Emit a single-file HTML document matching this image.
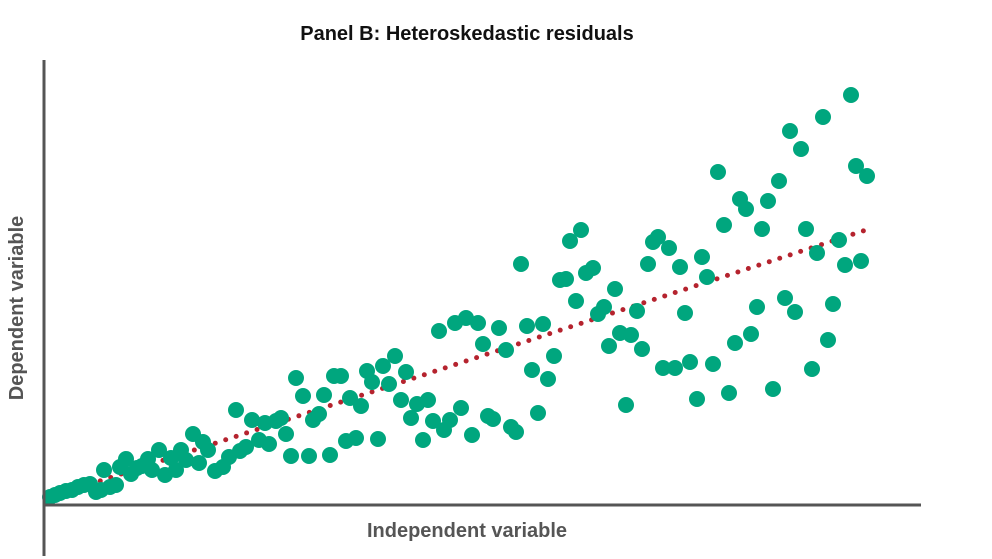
<!DOCTYPE html>
<html><head><meta charset="utf-8"><style>
html,body{margin:0;padding:0;background:#fff;width:992px;height:559px;overflow:hidden}
</style></head><body>
<svg width="992" height="559" viewBox="0 0 992 559" xmlns="http://www.w3.org/2000/svg">
<text x="467" y="40" text-anchor="middle" font-family="Liberation Sans, sans-serif" font-weight="bold" font-size="20" fill="#111">Panel B: Heteroskedastic residuals</text>
<text x="467" y="537" text-anchor="middle" font-family="Liberation Sans, sans-serif" font-weight="bold" font-size="20" fill="#555">Independent variable</text>
<text transform="translate(23,308) rotate(-90)" text-anchor="middle" font-family="Liberation Sans, sans-serif" font-weight="bold" font-size="20" fill="#555">Dependent variable</text>
<line x1="48" y1="498" x2="866" y2="230" stroke="#B5232E" stroke-width="5" stroke-linecap="round" stroke-dasharray="0 11"/>
<g fill="#00A67E">
<circle cx="50" cy="497" r="8"/><circle cx="55" cy="495" r="8"/><circle cx="60" cy="493" r="8"/><circle cx="66" cy="491" r="8"/><circle cx="72" cy="490" r="8"/><circle cx="78" cy="487" r="8"/><circle cx="84" cy="485" r="8"/><circle cx="90" cy="484" r="8"/><circle cx="96" cy="492" r="8"/><circle cx="101" cy="490" r="8"/>
<circle cx="104" cy="470" r="8"/><circle cx="110" cy="487" r="8"/><circle cx="116" cy="485" r="8"/><circle cx="120" cy="467" r="8"/><circle cx="126" cy="459" r="8"/><circle cx="131" cy="474" r="8"/><circle cx="137" cy="468" r="8"/><circle cx="142" cy="466" r="8"/><circle cx="148" cy="459" r="8"/><circle cx="152" cy="470" r="8"/>
<circle cx="159" cy="450" r="8"/><circle cx="165" cy="475" r="8"/><circle cx="171" cy="458" r="8"/><circle cx="176" cy="470" r="8"/><circle cx="181" cy="450" r="8"/><circle cx="186" cy="460" r="8"/><circle cx="193" cy="434" r="8"/><circle cx="199" cy="463" r="8"/><circle cx="203" cy="442" r="8"/><circle cx="208" cy="450" r="8"/>
<circle cx="215" cy="471" r="8"/><circle cx="223" cy="467" r="8"/><circle cx="229" cy="457" r="8"/><circle cx="236" cy="410" r="8"/><circle cx="240" cy="451" r="8"/><circle cx="246" cy="447" r="8"/><circle cx="252" cy="420" r="8"/><circle cx="259" cy="440" r="8"/><circle cx="265" cy="423" r="8"/><circle cx="269" cy="444" r="8"/>
<circle cx="276" cy="421" r="8"/><circle cx="281" cy="418" r="8"/><circle cx="286" cy="434" r="8"/><circle cx="291" cy="456" r="8"/><circle cx="296" cy="378" r="8"/><circle cx="303" cy="396" r="8"/><circle cx="309" cy="456" r="8"/><circle cx="313" cy="420" r="8"/><circle cx="319" cy="414" r="8"/><circle cx="324" cy="395" r="8"/>
<circle cx="330" cy="455" r="8"/><circle cx="334" cy="376" r="8"/><circle cx="341" cy="376" r="8"/><circle cx="346" cy="441" r="8"/><circle cx="350" cy="398" r="8"/><circle cx="356" cy="438" r="8"/><circle cx="361" cy="406" r="8"/><circle cx="367" cy="371" r="8"/><circle cx="372" cy="382" r="8"/><circle cx="378" cy="439" r="8"/>
<circle cx="383" cy="366" r="8"/><circle cx="389" cy="384" r="8"/><circle cx="395" cy="356" r="8"/><circle cx="401" cy="400" r="8"/><circle cx="406" cy="372" r="8"/><circle cx="411" cy="418" r="8"/><circle cx="417" cy="404" r="8"/><circle cx="423" cy="440" r="8"/><circle cx="428" cy="400" r="8"/><circle cx="433" cy="421" r="8"/>
<circle cx="439" cy="331" r="8"/><circle cx="444" cy="430" r="8"/><circle cx="450" cy="420" r="8"/><circle cx="455" cy="323" r="8"/><circle cx="461" cy="408" r="8"/><circle cx="466" cy="318" r="8"/><circle cx="472" cy="435" r="8"/><circle cx="478" cy="323" r="8"/><circle cx="483" cy="344" r="8"/><circle cx="488" cy="416" r="8"/>
<circle cx="493" cy="419" r="8"/><circle cx="499" cy="328" r="8"/><circle cx="506" cy="350" r="8"/><circle cx="511" cy="427" r="8"/><circle cx="516" cy="432" r="8"/><circle cx="521" cy="264" r="8"/><circle cx="527" cy="326" r="8"/><circle cx="532" cy="370" r="8"/><circle cx="538" cy="413" r="8"/><circle cx="543" cy="324" r="8"/>
<circle cx="548" cy="379" r="8"/><circle cx="554" cy="356" r="8"/><circle cx="560" cy="280" r="8"/><circle cx="566" cy="279" r="8"/><circle cx="570" cy="241" r="8"/><circle cx="576" cy="301" r="8"/><circle cx="581" cy="230" r="8"/><circle cx="586" cy="273" r="8"/><circle cx="593" cy="268" r="8"/><circle cx="598" cy="314" r="8"/>
<circle cx="604" cy="307" r="8"/><circle cx="609" cy="346" r="8"/><circle cx="615" cy="289" r="8"/><circle cx="620" cy="333" r="8"/><circle cx="626" cy="405" r="8"/><circle cx="631" cy="335" r="8"/><circle cx="637" cy="311" r="8"/><circle cx="642" cy="349" r="8"/><circle cx="648" cy="264" r="8"/><circle cx="653" cy="242" r="8"/>
<circle cx="658" cy="237" r="8"/><circle cx="663" cy="368" r="8"/><circle cx="669" cy="248" r="8"/><circle cx="675" cy="368" r="8"/><circle cx="680" cy="267" r="8"/><circle cx="685" cy="313" r="8"/><circle cx="690" cy="362" r="8"/><circle cx="697" cy="399" r="8"/><circle cx="702" cy="257" r="8"/><circle cx="707" cy="277" r="8"/>
<circle cx="713" cy="364" r="8"/><circle cx="718" cy="172" r="8"/><circle cx="724" cy="225" r="8"/><circle cx="729" cy="393" r="8"/><circle cx="735" cy="343" r="8"/><circle cx="740" cy="199" r="8"/><circle cx="746" cy="209" r="8"/><circle cx="751" cy="334" r="8"/><circle cx="757" cy="307" r="8"/><circle cx="762" cy="229" r="8"/>
<circle cx="768" cy="201" r="8"/><circle cx="773" cy="389" r="8"/><circle cx="779" cy="181" r="8"/><circle cx="785" cy="298" r="8"/><circle cx="790" cy="131" r="8"/><circle cx="795" cy="312" r="8"/><circle cx="801" cy="149" r="8"/><circle cx="806" cy="229" r="8"/><circle cx="812" cy="369" r="8"/><circle cx="817" cy="253" r="8"/>
<circle cx="823" cy="117" r="8"/><circle cx="828" cy="340" r="8"/><circle cx="833" cy="304" r="8"/><circle cx="839" cy="240" r="8"/><circle cx="845" cy="265" r="8"/><circle cx="851" cy="95" r="8"/><circle cx="856" cy="166" r="8"/><circle cx="861" cy="261" r="8"/><circle cx="867" cy="176" r="8"/>
</g>
<line x1="44" y1="60" x2="44" y2="556" stroke="#555" stroke-width="3"/>
<line x1="43" y1="505" x2="921" y2="505" stroke="#555" stroke-width="3"/>
</svg>
</body></html>
